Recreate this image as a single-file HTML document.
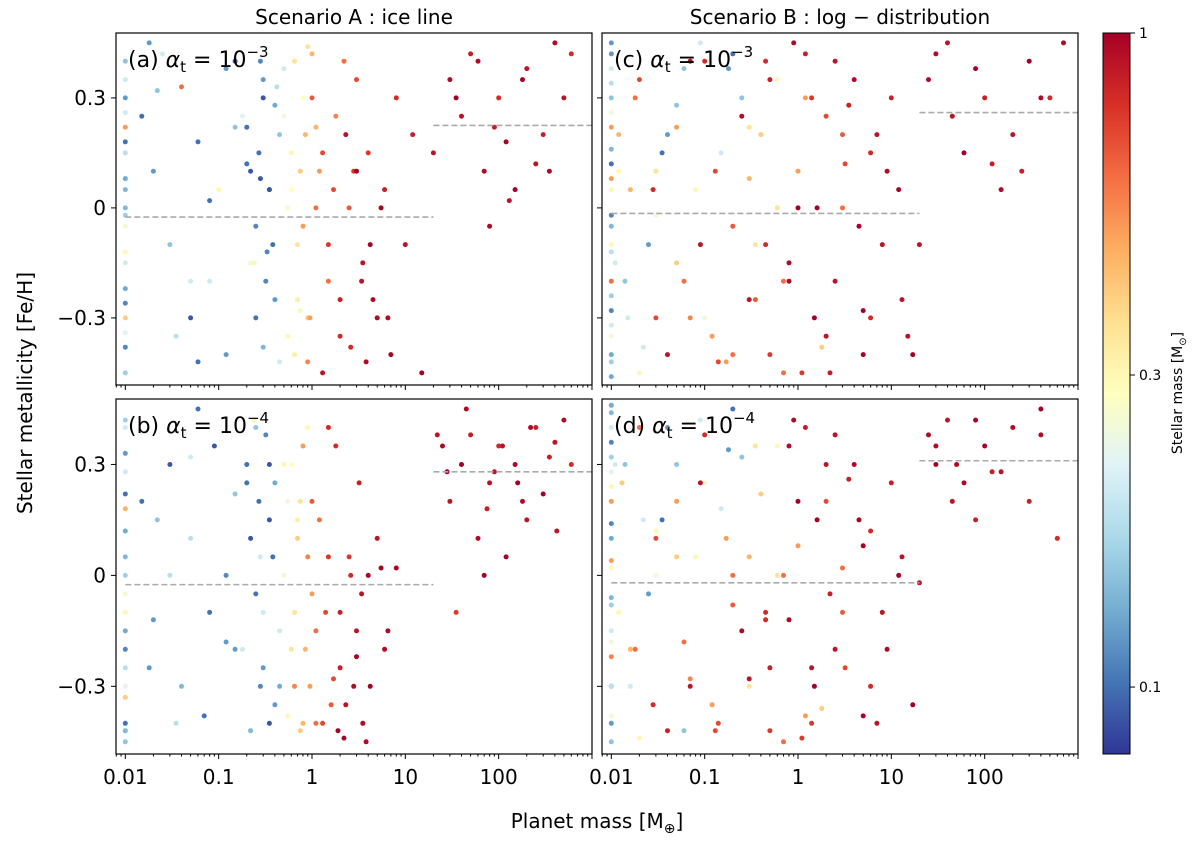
<!DOCTYPE html>
<html><head><meta charset="utf-8"><style>
body{margin:0;background:#fff;}
svg text{font-family:"DejaVu Sans","Liberation Sans",sans-serif;fill:#000;}
</style></head><body>
<svg id="fig" width="1200" height="840" viewBox="0 0 1200 840" xmlns="http://www.w3.org/2000/svg">
<defs id="defs">
<linearGradient id="cbgrad" x1="0" y1="1" x2="0" y2="0">
<stop offset="0" stop-color="#313695"/><stop offset="0.1" stop-color="#4575b4"/><stop offset="0.2" stop-color="#74add1"/><stop offset="0.3" stop-color="#abd9e9"/><stop offset="0.4" stop-color="#e0f3f8"/><stop offset="0.5" stop-color="#ffffbf"/><stop offset="0.6" stop-color="#fee090"/><stop offset="0.7" stop-color="#fdae61"/><stop offset="0.8" stop-color="#f46d43"/><stop offset="0.9" stop-color="#d73027"/><stop offset="1" stop-color="#a50026"/>
</linearGradient>
</defs>
<g id="root"></g>
</svg>
<script>
// ---- data ----
const massA=[0.01,0.01,0.01,0.01,0.01,0.01,0.01,0.01,0.01,0.01,0.01,0.01,0.015,0.02,0.03,0.04,0.05,0.06,0.08,0.1,0.12,0.15,0.2,0.25,0.3,0.35,0.4,0.45,0.5,0.3,0.18,0.06,0.025,0.22,0.6,0.7,0.8,0.9,1,0.65,0.55,1.2,1.5,1.8,2,2.5,3,3.5,4,5,6,7,8,10,12,15,1.3,2.2,4.5,30,40,50,70,100,150,200,300,400,500,80,120,250,600,0.28,0.33,0.42,0.75,1.1,2.8,0.9,
 0.01,0.01,0.01,0.01,0.01,0.01,0.01,0.01,0.2,0.22,0.25,0.27,0.3,0.32,0.35,0.38,0.4,0.45,0.28,0.24,0.5,0.55,0.6,0.65,0.7,0.75,0.8,0.85,0.9,0.95,1.0,1.1,1.3,1.5,1.7,2.0,2.3,2.6,3.0,3.4,3.8,4.2,5.5,6.5,0.15,0.12,0.08,0.05,0.035,0.022,0.018,20,35,60,90,130,180,350,450];
const fehA=[0.4,0.35,0.3,0.22,0.15,0.05,-0.05,-0.15,-0.22,-0.3,-0.38,-0.45,0.25,0.1,-0.1,0.33,-0.3,0.18,-0.2,0.05,-0.4,0.4,0.12,-0.05,0.3,0.05,-0.25,0.2,0.38,-0.38,0.25,-0.42,0.42,-0.15,0.15,-0.1,0.3,-0.3,0.42,-0.4,0.0,0.1,-0.2,0.25,-0.35,0.0,0.35,-0.15,0.15,-0.3,0.05,-0.4,0.3,-0.1,0.2,-0.45,-0.45,0.4,-0.25,0.35,0.25,0.42,0.1,0.3,0.05,0.38,0.2,0.45,0.3,-0.05,0.18,0.12,0.42,0.08,-0.12,0.33,-0.28,0.22,0.1,
 0.44,0.26,0.18,0.08,-0.02,-0.12,-0.26,-0.34,0.0,0.22,0.1,-0.3,0.15,0.35,-0.2,0.05,-0.1,0.28,-0.42,0.4,-0.15,0.25,-0.35,0.05,0.4,-0.25,0.1,-0.05,0.2,-0.42,-0.3,0.3,0.0,0.15,-0.1,0.05,-0.25,0.2,-0.38,0.1,-0.2,-0.42,-0.1,0.0,-0.3,0.22,0.38,0.02,-0.2,-0.35,0.32,0.45,0.15,0.3,0.4,0.22,0.02,0.35,0.1];
const mstarA=[0.15,0.2,0.12,0.5,0.18,0.14,0.25,0.2,0.13,0.4,0.11,0.16,0.1,0.12,0.15,0.6,0.09,0.1,0.2,0.3,0.12,0.09,0.1,0.11,0.09,0.1,0.12,0.15,0.2,0.14,0.22,0.1,0.2,0.25,0.3,0.35,0.28,0.4,0.45,0.32,0.26,0.5,0.6,0.55,0.8,0.65,0.7,0.9,0.75,0.95,0.85,1.0,0.8,0.9,0.85,1.0,0.9,0.6,0.95,0.95,0.9,0.85,0.95,0.8,1.0,0.9,0.85,0.95,0.9,0.95,1.0,0.9,0.8,0.09,0.11,0.18,0.3,0.45,0.75,0.35,
 0.2,0.1,0.13,0.16,0.3,0.11,0.22,0.14,0.1,0.09,0.1,0.1,0.12,0.11,0.09,0.1,0.13,0.2,0.11,0.3,0.25,0.3,0.28,0.35,0.32,0.4,0.5,0.45,0.55,0.5,0.65,0.6,0.7,0.75,0.7,0.85,0.9,0.8,1.0,0.9,0.95,1.0,1.0,0.95,0.15,0.12,0.1,0.2,0.18,0.15,0.12,0.9,1.0,0.95,0.85,0.9,1.0,0.95,0.9];
const dashA=[[0.01,20,-0.025],[20,1000,0.225]];

const massB=[0.01,0.01,0.01,0.01,0.01,0.01,0.01,0.01,0.01,0.01,0.01,0.015,0.02,0.03,0.04,0.05,0.07,0.09,0.12,0.15,0.2,0.25,0.3,0.35,0.4,0.22,0.28,0.06,0.03,0.5,0.6,0.7,0.8,0.9,1.0,0.55,0.65,1.2,1.4,1.6,1.8,2.0,2.5,3.0,3.5,4.0,5.0,6.0,8.0,2.2,2.8,3.2,1.5,1.9,25,30,40,50,60,80,100,120,150,200,250,300,400,500,600,35,70,90,180,350,0.35,0.45,0.18,0.75,1.1,
 0.01,0.01,0.01,0.01,0.01,0.01,0.01,0.01,0.2,0.22,0.25,0.27,0.3,0.32,0.35,0.38,0.4,0.45,0.28,0.24,0.5,0.55,0.6,0.65,0.7,0.75,0.8,0.85,0.9,0.95,1.0,1.1,1.3,1.5,1.7,2.0,2.3,2.6,3.0,3.4,3.8,4.2,5.5,6.5,0.15,0.12,0.08,0.05,0.035,0.022,0.018,22,28,45,75,110,160,220,420];
const fehB=[0.42,0.33,0.28,0.18,0.05,-0.05,-0.15,-0.25,-0.33,-0.4,-0.45,0.2,-0.12,0.3,-0.3,0.1,-0.38,0.35,0.0,-0.2,0.25,0.4,-0.1,0.15,-0.35,-0.42,0.05,0.45,0.0,0.3,-0.2,0.1,-0.4,0.4,-0.05,0.2,-0.3,0.15,-0.1,-0.35,0.35,-0.25,0.05,-0.15,-0.4,0.0,0.1,-0.2,0.02,-0.44,-0.3,0.25,0.4,-0.42,0.35,0.2,0.3,0.38,0.1,0.25,0.35,0.05,0.3,0.15,0.4,0.22,0.36,0.42,0.3,-0.1,0.0,0.28,0.2,0.32,0.3,-0.3,-0.2,0.2,-0.4,
 0.4,0.22,0.12,0.0,-0.1,-0.2,-0.3,-0.42,0.3,0.1,-0.05,0.2,-0.25,0.38,-0.4,0.05,0.25,-0.15,-0.3,0.42,0.0,-0.38,0.3,-0.1,0.15,-0.42,0.35,-0.2,0.05,-0.3,0.2,-0.15,-0.4,0.05,-0.28,-0.1,-0.35,0.0,-0.22,-0.05,-0.45,-0.3,0.02,-0.15,0.22,-0.18,-0.1,0.32,-0.4,0.15,-0.25,0.38,0.28,0.45,0.18,0.35,0.25,0.4,0.12];
const mstarB=[0.16,0.12,0.2,0.45,0.14,0.25,0.13,0.18,0.4,0.1,0.15,0.1,0.12,0.09,0.14,0.18,0.1,0.09,0.11,0.12,0.1,0.15,0.2,0.09,0.12,0.14,0.2,0.1,0.18,0.3,0.35,0.4,0.45,0.3,0.5,0.25,0.55,0.6,0.7,0.65,0.8,0.85,0.75,0.9,0.95,1.0,0.9,0.95,1.0,1.0,0.95,0.85,0.8,1.0,0.95,0.9,1.0,0.85,0.95,0.9,0.8,1.0,0.95,0.9,0.85,1.0,0.9,0.95,0.8,0.75,1.0,0.9,0.95,0.85,0.09,0.13,0.2,0.35,0.6,
 0.2,0.1,0.13,0.16,0.3,0.11,0.22,0.14,0.1,0.09,0.1,0.1,0.12,0.11,0.09,0.1,0.13,0.2,0.11,0.3,0.25,0.3,0.28,0.35,0.32,0.4,0.5,0.45,0.55,0.5,0.65,0.6,0.7,0.75,0.7,0.85,0.9,0.8,1.0,0.9,0.95,1.0,1.0,0.95,0.15,0.12,0.1,0.2,0.18,0.15,0.12,0.9,1.0,0.95,0.85,0.9,1.0,0.95,0.9];
const dashB=[[0.01,20,-0.025],[20,1000,0.28]];

const massC=[0.01,0.01,0.01,0.01,0.01,0.01,0.01,0.01,0.01,0.01,0.01,0.01,0.01,0.012,0.015,0.02,0.025,0.03,0.04,0.05,0.06,0.08,0.1,0.12,0.15,0.2,0.25,0.3,0.4,0.5,0.6,0.8,1.0,1.2,1.5,2.0,2.5,3.0,4.0,5.0,6.0,8.0,10,12,15,0.02,0.035,0.07,0.09,0.14,0.18,0.3,0.45,0.7,0.9,1.8,3.5,0.03,0.05,0.2,0.35,25,40,60,100,150,200,300,500,700,20,250,0.6,1.1,2.5,
 0.01,0.01,0.01,0.01,0.01,0.01,0.01,0.01,0.01,0.01,0.012,0.014,0.018,0.022,0.028,0.04,0.05,0.07,0.1,0.13,0.17,0.25,0.35,0.5,0.7,1.0,1.4,2.0,3.0,4.5,6.0,9.0,13,17,0.011,0.016,0.03,0.06,0.09,0.2,0.3,0.45,0.8,1.2,1.6,2.2,3.2,5.0,7.0,30,45,80,120,400];
const fehC=[0.45,0.38,0.3,0.22,0.12,0.05,-0.05,-0.12,-0.2,-0.28,-0.35,-0.42,-0.46,0.2,-0.3,0.35,-0.1,0.1,-0.4,0.28,-0.2,0.05,0.4,-0.35,0.15,-0.05,0.3,-0.25,0.2,-0.4,0.35,-0.15,0.1,0.42,-0.3,0.25,-0.2,0.0,0.35,-0.4,0.15,-0.1,0.3,0.05,-0.35,-0.45,0.15,-0.3,0.45,-0.42,0.38,0.08,-0.1,-0.45,0.45,-0.38,0.28,-0.02,0.22,0.42,-0.25,0.35,0.45,0.15,0.3,0.05,0.2,0.4,0.3,0.45,-0.1,0.1,0.0,-0.45,0.4,
 0.42,0.34,0.26,0.16,0.08,-0.02,-0.1,-0.24,-0.32,-0.4,0.1,-0.2,0.3,-0.38,0.05,0.2,-0.15,0.4,-0.3,0.1,-0.42,0.25,-0.1,0.35,-0.2,0.0,0.3,-0.35,0.2,-0.05,-0.3,0.1,-0.25,-0.4,-0.15,0.05,-0.3,0.38,-0.1,-0.4,0.22,0.4,-0.2,0.3,0.0,-0.45,0.12,-0.28,0.2,0.42,0.25,0.38,0.12,0.3];
const mstarC=[0.12,0.2,0.15,0.5,0.1,0.3,0.14,0.18,0.6,0.11,0.25,0.16,0.13,0.45,0.2,0.7,0.12,0.35,0.9,0.15,0.6,0.3,0.8,0.5,0.2,0.65,0.15,0.9,0.4,0.75,0.3,0.95,0.5,0.85,1.0,0.7,0.9,0.6,0.95,1.0,0.8,0.9,0.85,1.0,0.9,0.3,0.1,0.55,0.2,0.7,0.12,0.45,0.8,0.6,0.95,0.4,0.85,0.25,0.5,0.1,0.65,0.95,0.9,1.0,0.85,0.95,0.9,1.0,0.8,0.95,0.9,0.85,0.35,0.75,0.9,
 0.12,0.18,0.25,0.14,0.5,0.11,0.3,0.16,0.2,0.13,0.3,0.15,0.6,0.2,0.8,0.12,0.4,0.9,0.25,0.7,0.5,0.95,0.35,0.85,0.6,1.0,0.75,0.9,0.65,1.0,0.8,0.95,0.9,1.0,0.2,0.45,0.7,0.15,0.9,0.6,0.35,0.8,0.95,0.5,1.0,0.85,0.7,1.0,0.9,0.95,0.9,1.0,0.85,0.95];
const dashC=[[0.01,20,-0.015],[20,1000,0.26]];

const massD=[0.01,0.01,0.01,0.01,0.01,0.01,0.01,0.01,0.01,0.01,0.01,0.01,0.013,0.016,0.02,0.025,0.03,0.04,0.05,0.06,0.08,0.1,0.12,0.15,0.2,0.25,0.3,0.4,0.5,0.6,0.8,1.0,1.2,1.5,2.0,2.5,3.0,4.0,5.0,6.0,8.0,10,12,0.02,0.035,0.07,0.09,0.14,0.18,0.3,0.45,0.7,0.9,1.8,3.5,0.03,0.05,0.2,1.4,25,30,40,60,80,100,150,200,300,400,600,20,50,0.6,1.1,2.5,
 0.01,0.01,0.01,0.01,0.01,0.01,0.01,0.01,0.01,0.01,0.012,0.014,0.018,0.022,0.028,0.04,0.05,0.07,0.1,0.13,0.17,0.25,0.35,0.5,0.7,1.0,1.4,2.0,3.0,4.5,6.0,9.0,13,17,0.011,0.016,0.03,0.06,0.09,0.2,0.3,0.45,0.8,1.2,1.6,2.2,3.2,5.0,7.0,30,45,80,120,400];
const fehD=[0.44,0.36,0.28,0.2,0.1,0.02,-0.08,-0.15,-0.22,-0.3,-0.38,-0.45,0.25,-0.3,0.4,-0.05,0.12,-0.42,0.3,-0.18,0.05,0.38,-0.35,0.18,-0.08,0.32,-0.28,0.22,-0.42,0.35,-0.12,0.08,0.4,-0.3,0.2,-0.2,0.02,0.3,-0.38,0.12,-0.1,0.25,0.0,-0.44,0.15,-0.28,0.42,-0.4,0.34,0.05,-0.12,-0.45,0.42,-0.36,0.26,0.0,0.2,0.45,-0.25,0.38,0.3,0.42,0.25,0.15,0.35,0.28,0.4,0.2,0.45,0.1,-0.02,0.3,0.0,-0.44,0.38,
 -0.4,-0.3,-0.18,-0.06,0.04,0.14,0.24,0.32,0.4,0.46,-0.1,0.3,-0.2,0.15,-0.35,0.4,0.05,-0.3,0.25,-0.42,0.1,-0.15,0.35,-0.25,0.0,0.2,-0.4,0.3,-0.1,0.15,-0.3,-0.2,0.05,-0.35,0.3,-0.2,0.1,-0.42,0.25,0.0,-0.3,-0.1,0.35,-0.38,0.15,-0.05,-0.25,0.08,-0.4,0.35,0.2,0.42,0.28,0.38];
const mstarD=[0.14,0.11,0.22,0.5,0.13,0.3,0.16,0.2,0.55,0.1,0.25,0.15,0.4,0.2,0.6,0.12,0.3,0.85,0.15,0.6,0.3,0.8,0.5,0.2,0.65,0.15,0.9,0.4,0.75,0.3,0.95,0.5,0.85,1.0,0.7,0.9,0.6,0.95,1.0,0.8,0.9,0.85,1.0,0.3,0.1,0.55,0.2,0.7,0.12,0.45,0.8,0.6,0.95,0.4,0.85,0.25,0.5,0.1,0.9,0.95,1.0,0.9,0.95,0.85,1.0,0.9,0.95,0.85,1.0,0.8,0.9,0.95,0.35,0.75,0.9,
 0.12,0.18,0.25,0.14,0.5,0.11,0.3,0.16,0.2,0.13,0.3,0.15,0.6,0.2,0.8,0.12,0.4,0.9,0.25,0.7,0.5,0.95,0.35,0.85,0.6,1.0,0.75,0.9,0.65,1.0,0.8,0.95,0.9,1.0,0.2,0.45,0.7,0.15,0.9,0.6,0.35,0.8,0.95,0.5,1.0,0.85,0.7,1.0,0.9,0.95,0.9,1.0,0.85,0.95];
const dashD=[[0.01,20,-0.02],[20,1000,0.31]];

const xTickLabels=["0.01","0.1","1","10","100"];
const xTickValues=[0.01,0.1,1,10,100];
const yTickLabels=["0.3","0","\u22120.3"];
const yTickValues=[0.3,0,-0.3];
const cbTickLabels=["1","0.3","0.1"];
const cbTickValues=[1,0.3,0.1];

// ---- layout ----
const NS="http://www.w3.org/2000/svg";
const root=document.getElementById('root');
const defs=document.getElementById('defs');
const XMIN=-2.1,XMAX=3.0,YMIN=-0.483,YMAX=0.477;
const CBMIN=0.079,CBMAX=1;
const stops=["#313695","#4575b4","#74add1","#abd9e9","#e0f3f8","#ffffbf","#fee090","#fdae61","#f46d43","#d73027","#a50026"];
function hex(c){return [parseInt(c.slice(1,3),16),parseInt(c.slice(3,5),16),parseInt(c.slice(5,7),16)];}
function cmap(m){let t=(Math.log10(m)-Math.log10(CBMIN))/(Math.log10(CBMAX)-Math.log10(CBMIN));t=Math.max(0,Math.min(1,t));const f=t*10,i=Math.min(9,Math.floor(f)),r=f-i;const a=hex(stops[i]),b=hex(stops[i+1]);return `rgb(${a.map((v,k)=>Math.round(v+(b[k]-v)*r)).join(',')})`;}
function mk(tag,attrs,parent){const e=document.createElementNS(NS,tag);for(const k in attrs)e.setAttribute(k,attrs[k]);(parent||root).appendChild(e);return e;}

const panels=[
 {id:'a',x:116,y:33,w:476,h:352,m:massA,f:fehA,s:mstarA,d:dashA,lab:'(a) ',exp:'\u22123',yt:true,xt:false},
 {id:'b',x:116,y:399,w:476,h:355,m:massB,f:fehB,s:mstarB,d:dashB,lab:'(b) ',exp:'\u22124',yt:true,xt:true},
 {id:'c',x:602,y:33,w:476,h:352,m:massC,f:fehC,s:mstarC,d:dashC,lab:'(c) ',exp:'\u22123',yt:false,xt:false},
 {id:'d',x:602,y:399,w:476,h:355,m:massD,f:fehD,s:mstarD,d:dashD,lab:'(d) ',exp:'\u22124',yt:false,xt:true}
];
panels.forEach(p=>{
 const sx=v=>p.x+(Math.log10(v)-XMIN)/(XMAX-XMIN)*p.w;
 const sy=v=>p.y+(YMAX-v)/(YMAX-YMIN)*p.h;
 const cp=mk('clipPath',{id:'clip-'+p.id},defs);
 mk('rect',{x:p.x,y:p.y,width:p.w,height:p.h},cp);
 const g=mk('g',{});
 
 
 const pts=mk('g',{'clip-path':'url(#clip-'+p.id+')'},g);
 
 
 p.m.forEach((m,i)=>{
  const c=mk('circle',{cx:sx(m).toFixed(1),cy:sy(p.f[i]).toFixed(1),r:2.5,fill:cmap(p.s[i])},pts);
  
  
 });
 p.d.forEach(seg=>{
  const l=mk('line',{x1:sx(seg[0]),x2:sx(seg[1]),y1:sy(seg[2]),y2:sy(seg[2]),stroke:'#aaa','stroke-width':1.6,'stroke-dasharray':'6,3'},g);
  
  
 });
 const fr=mk('rect',{x:p.x,y:p.y,width:p.w,height:p.h,fill:'none',stroke:'#000','stroke-width':1.2},g);
 
 
 for(let e=-3;e<=3;e++){for(let k=1;k<10;k++){const v=k*Math.pow(10,e);const lv=Math.log10(v);if(lv<XMIN||lv>XMAX)continue;const X=sx(v);const len=k==1?5:2.5;mk('line',{x1:X,x2:X,y1:p.y+p.h,y2:p.y+p.h+len,stroke:'#000','stroke-width':1},g);}}
 if(p.xt){xTickValues.forEach((v,i)=>{const t=mk('text',{x:sx(v),y:p.y+p.h+30,'text-anchor':'middle','font-size':20},g);t.textContent=xTickLabels[i];});}
 yTickValues.forEach((v,i)=>{const Y=sy(v);mk('line',{x1:p.x-5,x2:p.x,y1:Y,y2:Y,stroke:'#000','stroke-width':1},g);
  if(p.yt){const t=mk('text',{x:p.x-10,y:Y+7,'text-anchor':'end','font-size':20},g);t.textContent=yTickLabels[i];}});
 const lt=mk('text',{x:p.x+12,y:p.y+34,'font-size':22},g);
 
 
 lt.innerHTML=p.lab+'<tspan font-style="italic">\u03b1</tspan><tspan font-size="15" dy="5">t</tspan><tspan dy="-5"> = 10</tspan><tspan font-size="15" dy="-10">'+p.exp+'</tspan>';
});

function txt(name,attrs,content){const t=mk('text',attrs);t.textContent=content;return t;}
txt('title-scenario-a',{x:354,y:24,'text-anchor':'middle','font-size':20},'Scenario A :  ice line');
txt('title-scenario-b',{x:840,y:24,'text-anchor':'middle','font-size':20},'Scenario B :  log \u2212 distribution');
txt('y-axis-title',{x:0,y:0,'text-anchor':'middle','font-size':20,transform:'translate(32,393) rotate(-90)'},'Stellar metallicity [Fe/H]');
const xl=txt('x-axis-title',{x:597,y:828,'text-anchor':'middle','font-size':20},'');
xl.innerHTML='Planet mass [M<tspan font-size="14" dy="5">\u2295</tspan><tspan dy="-5">]</tspan>';

const CBX=1103,CBY=33,CBW=27,CBH=721;
const cb=mk('rect',{x:CBX,y:CBY,width:CBW,height:CBH,fill:'url(#cbgrad)',stroke:'#000','stroke-width':1});


const cy=v=>CBY+(Math.log10(CBMAX)-Math.log10(v))/(Math.log10(CBMAX)-Math.log10(CBMIN))*CBH;
cbTickValues.forEach((v,i)=>{const Y=cy(v);mk('line',{x1:CBX+CBW,x2:CBX+CBW+5,y1:Y,y2:Y,stroke:'#000','stroke-width':1});
 txt('colorbar-tick-label',{x:CBX+CBW+9,y:Y+5,'font-size':14},cbTickLabels[i]);});
const cl=txt('colorbar-title',{x:0,y:0,'text-anchor':'middle','font-size':14,transform:'translate(1182,393) rotate(-90)'},'');
cl.innerHTML='Stellar mass [M<tspan font-size="10" dy="4">\u2299</tspan><tspan dy="-4">]</tspan>';
</script>
</body></html>
